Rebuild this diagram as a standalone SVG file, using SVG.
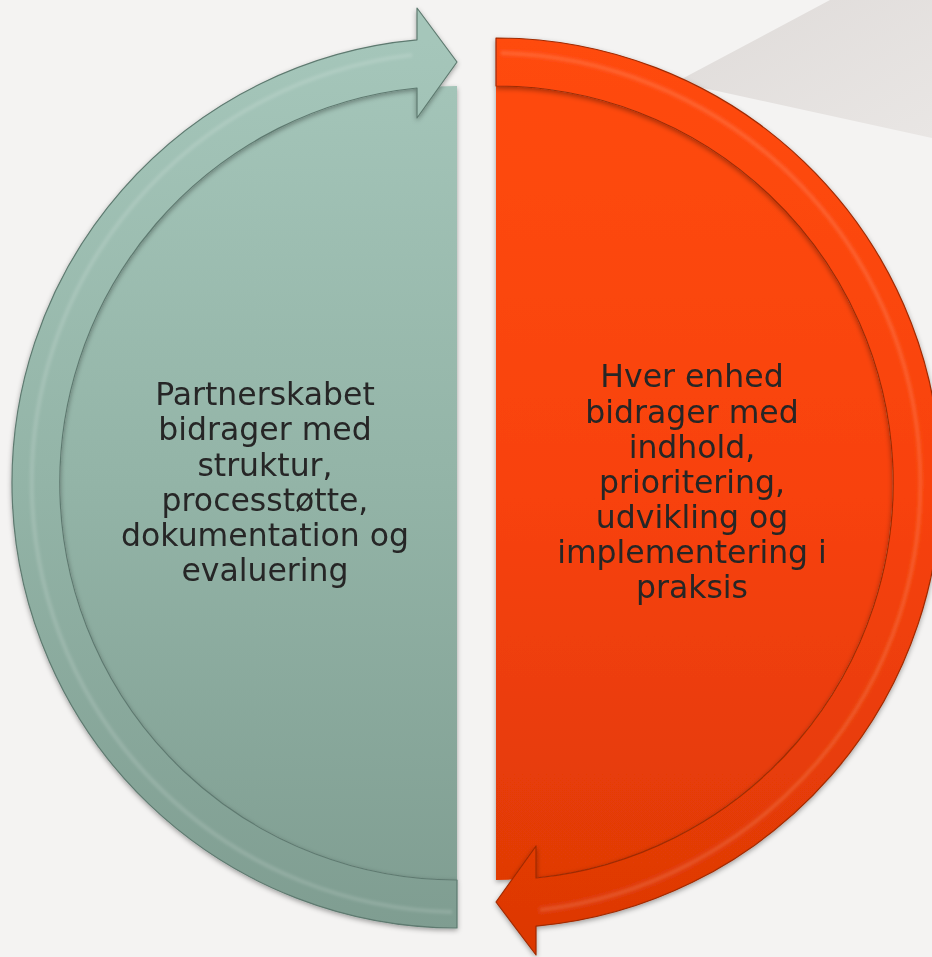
<svg xmlns="http://www.w3.org/2000/svg" width="932" height="957" viewBox="0 0 932 957">
  <defs>
    <linearGradient id="teal" gradientUnits="userSpaceOnUse" x1="0" y1="40" x2="0" y2="930">
      <stop offset="0" stop-color="#a5c6ba"/>
      <stop offset="0.5" stop-color="#93b4a7"/>
      <stop offset="1" stop-color="#7f9d91"/>
    </linearGradient>
    <linearGradient id="orange" gradientUnits="userSpaceOnUse" x1="0" y1="40" x2="0" y2="955">
      <stop offset="0" stop-color="#ff4b10"/>
      <stop offset="0.5" stop-color="#f8420a"/>
      <stop offset="1" stop-color="#dc3805"/>
    </linearGradient>
    <linearGradient id="grey" x1="0" y1="0" x2="1" y2="1">
      <stop offset="0" stop-color="#dfdbd9"/>
      <stop offset="1" stop-color="#e9e6e4"/>
    </linearGradient>
    <filter id="shadow" x="-10%" y="-10%" width="120%" height="120%">
      <feDropShadow dx="0" dy="2" stdDeviation="2.5" flood-color="#000" flood-opacity="0.35"/>
    </filter>
    <filter id="soft" x="-10%" y="-10%" width="120%" height="120%">
      <feGaussianBlur stdDeviation="1.5"/>
    </filter>
  </defs>
  <style>
    .lbl { font-family: "DejaVu Sans", Verdana, sans-serif; font-size: 31.5px; fill: #262626; text-anchor: middle; }
    .tealfill { fill: url(#teal); }
    .orfill { fill: url(#orange); }
    .tealband { fill: url(#teal); stroke: #5e7a70; stroke-width: 1.2; stroke-linejoin: round; }
    .orband { fill: url(#orange); stroke: #a02a04; stroke-width: 1.2; stroke-linejoin: round; }
    .hl { fill: none; stroke: #ffffff; stroke-opacity: 0.14; stroke-width: 4; filter: url(#soft); }
  </style>

  <rect x="0" y="0" width="932" height="957" fill="#f4f3f2"/>

  <!-- decorative grey wedge -->
  <polygon points="676,82 830,0 932,0 932,138" fill="url(#grey)"/>

  <!-- nodes -->
  <g id="left-node" filter="url(#shadow)">
    <path class="tealfill" d="M457,86 A397,397 0 0 0 457,880 Z"/>
    <text class="lbl" x="265" y="405">Partnerskabet</text>
    <text class="lbl" x="265" y="440">bidrager med</text>
    <text class="lbl" x="265" y="475.5">struktur,</text>
    <text class="lbl" x="265" y="511">processtøtte,</text>
    <text class="lbl" x="265" y="546">dokumentation og</text>
    <text class="lbl" x="265" y="581">evaluering</text>
  </g>
  <g id="right-node" filter="url(#shadow)">
    <path class="orfill" d="M496,86 A397,397 0 0 1 496,880 Z"/>
    <text class="lbl" x="692" y="387">Hver enhed</text>
    <text class="lbl" x="692" y="422.5">bidrager med</text>
    <text class="lbl" x="692" y="457.5">indhold,</text>
    <text class="lbl" x="692" y="492.5">prioritering,</text>
    <text class="lbl" x="692" y="527.5">udvikling og</text>
    <text class="lbl" x="692" y="563">implementering i</text>
    <text class="lbl" x="692" y="598">praksis</text>
  </g>

  <!-- connectors: curved arrows -->
  <g id="connectors">
    <g id="left-arrow" filter="url(#shadow)">
      <path class="tealband" d="M457,928 A445,445 0 0 1 417,39.8 L417,8 L457,62 L417,118 L417,88 A397,397 0 0 0 457,880 Z"/>
      <path class="hl" d="M452,912 A430,430 0 0 1 412,55"/>
    </g>
    <g id="right-arrow" filter="url(#shadow)">
      <path class="orband" d="M496,38 A445,445 0 0 1 536,926.2 L536,955 L496,902 L536,846 L536,878 A397,397 0 0 0 496,86 Z"/>
      <path class="hl" d="M501,53 A430,430 0 0 1 540,910"/>
    </g>
  </g>
</svg>
